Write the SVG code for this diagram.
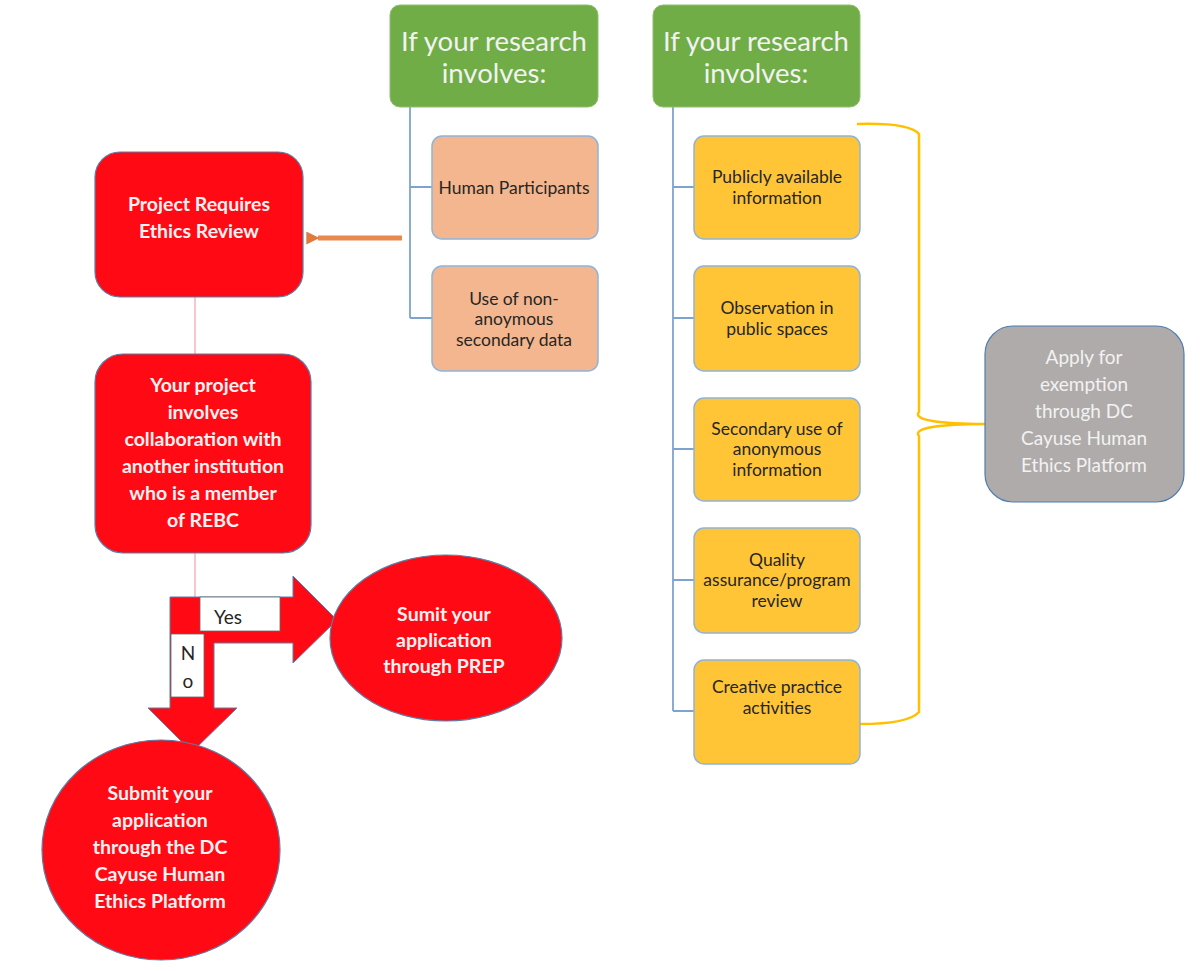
<svg xmlns="http://www.w3.org/2000/svg" width="1200" height="971" viewBox="0 0 1200 971">
<style>
text{font-family:Lato,"Open Sans","Liberation Sans",sans-serif;text-anchor:middle;dominant-baseline:central}
.red{fill:#FF0A14;stroke:#5B7FA8;stroke-width:1.2}
.wb{fill:#FFF2F2;font-weight:bold;font-size:19.5px}
.green{fill:#70AD47;stroke:#8FBF6F;stroke-width:1}
.gt{fill:#F2F2F2;font-size:27.5px}
.peach{fill:#F4B68E;stroke:#8FB4DA;stroke-width:1.5}
.gold{fill:#FFC537;stroke:#8FB4DA;stroke-width:1.5}
.dt{fill:#262626;font-size:17.5px}
.gy{fill:#F2F2F2;font-size:19px}
.tree{fill:none;stroke:#7FA3D0;stroke-width:1.8}
.lbl{fill:#FFFFFF;stroke:#666;stroke-width:0.8}
</style>
<defs>
<marker id="oh" viewBox="0 0 10 10" refX="1" refY="5" markerWidth="2.6" markerHeight="2.6" orient="auto">
<path d="M10,0 L0,5 L10,10 z" fill="#E07A3C"/>
</marker>
</defs>
<rect width="1200" height="971" fill="#FFFFFF"/>
<g id="connectors">
<path class="tree" d="M410,107 V318 M410,187 H432 M410,318 H432"/>
<path class="tree" d="M673,107 V711 M673,187 H694 M673,318 H694 M673,449 H694 M673,580 H694 M673,711 H694"/>
<line x1="402" y1="238" x2="318" y2="238" stroke="#E88A4E" stroke-width="5" marker-end="url(#oh)"/>
<line x1="195" y1="297" x2="195" y2="354" stroke="#F4A0A8" stroke-width="1.2"/>
<line x1="195" y1="553" x2="195" y2="598" stroke="#F4A0A8" stroke-width="1.2"/>
<path d="M857,124 C890,123 912,126 919,134 V412 C912,420 940,424 985,424 C940,424 912,428 919,436 V712 C912,720 890,724 860,724" fill="none" stroke="#FFC000" stroke-width="2.5"/>
<path id="bent-arrow" d="M170,597 H293 V576 L337,620 L293,663 V643 H214 V708 H237 L192,752 L148,708 H170 Z" fill="#FF0A14" stroke="#5B7FA8" stroke-width="1"/>
</g>
<g id="label-yes"><rect class="lbl" x="200" y="597" width="80" height="34"/><text x="228" y="616" fill="#262626" font-size="19">Yes</text></g>
<g id="label-no"><rect class="lbl" x="171" y="634" width="33" height="63"/><text x="188" y="652" fill="#262626" font-size="19">N</text><text x="188" y="680" fill="#262626" font-size="19">o</text></g>
<g id="node-review"><rect class="red" x="95" y="152" width="208" height="145" rx="25"/><text class="wb" x="199" y="203">Project Requires</text><text class="wb" x="199" y="230">Ethics Review</text></g>
<g id="node-collab"><rect class="red" x="95" y="354" width="216" height="199" rx="28"/>
<text class="wb" x="203" y="384">Your project</text><text class="wb" x="203" y="411">involves</text><text class="wb" x="203" y="438">collaboration with</text><text class="wb" x="203" y="465">another institution</text><text class="wb" x="203" y="492">who is a member</text><text class="wb" x="203" y="519">of REBC</text></g>
<g id="node-prep"><ellipse class="red" cx="446" cy="638" rx="116" ry="83"/><text class="wb" x="444" y="613">Sumit your</text><text class="wb" x="444" y="639">application</text><text class="wb" x="444" y="665">through PREP</text></g>
<g id="node-dc"><ellipse class="red" cx="161" cy="850" rx="119" ry="110"/><text class="wb" x="160" y="792">Submit your</text><text class="wb" x="160" y="819">application</text><text class="wb" x="160" y="846">through the DC</text><text class="wb" x="160" y="873">Cayuse Human</text><text class="wb" x="160" y="900">Ethics Platform</text></g>
<g id="node-green1"><rect class="green" x="390" y="5" width="208" height="102" rx="10"/><text class="gt" x="494" y="40">If your research</text><text class="gt" x="494" y="72">involves:</text></g>
<g id="node-green2"><rect class="green" x="653" y="5" width="207" height="102" rx="10"/><text class="gt" x="756" y="40">If your research</text><text class="gt" x="756" y="72">involves:</text></g>
<g id="node-human"><rect class="peach" x="432" y="136" width="166" height="103" rx="10"/><text class="dt" x="514" y="187">Human Participants</text></g>
<g id="node-nonanon"><rect class="peach" x="432" y="266" width="166" height="105" rx="10"/><text class="dt" x="514" y="298">Use of non-</text><text class="dt" x="514" y="318">anoymous</text><text class="dt" x="514" y="339">secondary data</text></g>
<g id="node-public"><rect class="gold" x="694" y="136" width="166" height="103" rx="10"/><text class="dt" x="777" y="176">Publicly available</text><text class="dt" x="777" y="197">information</text></g>
<g id="node-observation"><rect class="gold" x="694" y="266" width="166" height="105" rx="10"/><text class="dt" x="777" y="307">Observation in</text><text class="dt" x="777" y="328">public spaces</text></g>
<g id="node-secondary"><rect class="gold" x="694" y="398" width="166" height="103" rx="10"/><text class="dt" x="777" y="428">Secondary use of</text><text class="dt" x="777" y="448">anonymous</text><text class="dt" x="777" y="469">information</text></g>
<g id="node-quality"><rect class="gold" x="694" y="528" width="166" height="105" rx="10"/><text class="dt" x="777" y="559">Quality</text><text class="dt" x="777" y="579">assurance/program</text><text class="dt" x="777" y="600">review</text></g>
<g id="node-creative"><rect class="gold" x="694" y="660" width="166" height="104" rx="10"/><text class="dt" x="777" y="686">Creative practice</text><text class="dt" x="777" y="707">activities</text></g>
<g id="node-exempt"><rect x="985" y="326" width="199" height="176" rx="28" fill="#AFABAB" stroke="#4F7DAF" stroke-width="1.2"/>
<text class="gy" x="1084" y="356">Apply for</text><text class="gy" x="1084" y="383">exemption</text><text class="gy" x="1084" y="410">through DC</text><text class="gy" x="1084" y="437">Cayuse Human</text><text class="gy" x="1084" y="464">Ethics Platform</text></g>
</svg>
